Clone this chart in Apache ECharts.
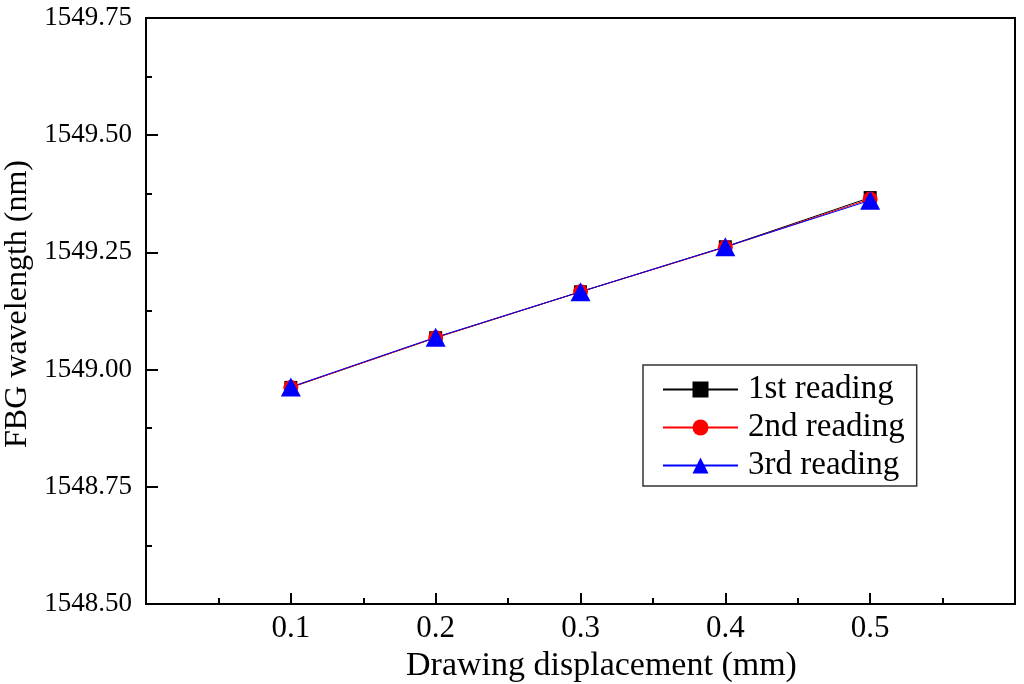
<!DOCTYPE html>
<html>
<head>
<meta charset="utf-8">
<script src="https://cdn.jsdelivr.net/npm/echarts@6/dist/echarts.min.js"></script>
<style>html,body{margin:0;padding:0;background:#fff}#c{width:1024px;height:684px}</style>
</head>
<body>
<div id="c"></div>
<script>
const displacement = [0.1, 0.2, 0.3, 0.4, 0.5];
const reading1 = [1548.962, 1549.068, 1549.166, 1549.262, 1549.367];
const reading2 = [1548.962, 1549.068, 1549.166, 1549.261, 1549.364];
const reading3 = [1548.963, 1549.069, 1549.166, 1549.262, 1549.361];
const seriesNames = ['1st reading', '2nd reading', '3rd reading'];
const xTitle = 'Drawing displacement (mm)';
const yTitle = 'FBG wavelength (nm)';

const font = 'Liberation Serif';
const chart = echarts.init(document.getElementById('c'));
function pairs(ys){ return displacement.map((x,i)=>[x, ys[i]]); }
chart.setOption({
  animation:false,
  backgroundColor:'#fff',
  grid:{left:146, right:9, top:18, bottom:80, containLabel:false, outerBoundsMode:'none',
        show:true, borderColor:'#000', borderWidth:2, backgroundColor:'transparent'},
  xAxis:{
    type:'value', min:0, max:0.6, interval:0.1,
    name:xTitle, nameLocation:'middle', nameGap:40,
    nameTextStyle:{fontFamily:font, fontSize:34, color:'#000', padding:[0,0,0,42]},
    axisLine:{show:true, onZero:false, lineStyle:{color:'#000', width:2}},
    axisTick:{show:true, inside:true, length:11, lineStyle:{color:'#000', width:2}},
    minorTick:{show:true, splitNumber:2, length:6, lineStyle:{color:'#000', width:2}},
    splitLine:{show:false},
    axisLabel:{fontFamily:font, fontSize:31, color:'#000', margin:9, showMinLabel:false, showMaxLabel:false,
      formatter:v=> (v<=0.001||v>=0.599)?'':v.toFixed(1)}
  },
  yAxis:{
    type:'value', min:1548.5, max:1549.75, interval:0.25,
    name:yTitle, nameLocation:'middle', nameGap:102,
    nameTextStyle:{fontFamily:font, fontSize:32, color:'#000', padding:[0,0,0,14]},
    axisLine:{show:true, lineStyle:{color:'#000', width:2}},
    axisTick:{show:true, inside:true, length:12, lineStyle:{color:'#000', width:2}},
    minorTick:{show:true, splitNumber:2, length:6, lineStyle:{color:'#000', width:2}},
    splitLine:{show:false},
    axisLabel:{fontFamily:font, fontSize:27, color:'#000', margin:14, formatter:v=>v.toFixed(2)}
  },
  legend:{
    left:643, top:365, orient:'vertical',
    itemWidth:75, itemHeight:20, itemGap:5,
    padding:[8,12,4,19],
    borderColor:'#333', borderWidth:1.5, backgroundColor:'#fff',
    textStyle:{fontFamily:font, fontSize:33, lineHeight:33, color:'#000', padding:[0,0,0,5]},
    data:seriesNames
  },
  series:[
    {name:seriesNames[0], type:'line', data:pairs(reading1), symbol:'rect', symbolSize:13,
     itemStyle:{color:'#000'}, lineStyle:{color:'#000', width:1}},
    {name:seriesNames[1], type:'line', data:pairs(reading2), symbol:'circle', symbolSize:15,
     itemStyle:{color:'#ff0000'}, lineStyle:{color:'#ff0000', width:1}},
    {name:seriesNames[2], type:'line', data:pairs(reading3), symbol:'triangle', symbolSize:[20,19],
     itemStyle:{color:'#0000ff'}, lineStyle:{color:'#0000ff', width:1}}
  ]
});
</script>
</body>
</html>
